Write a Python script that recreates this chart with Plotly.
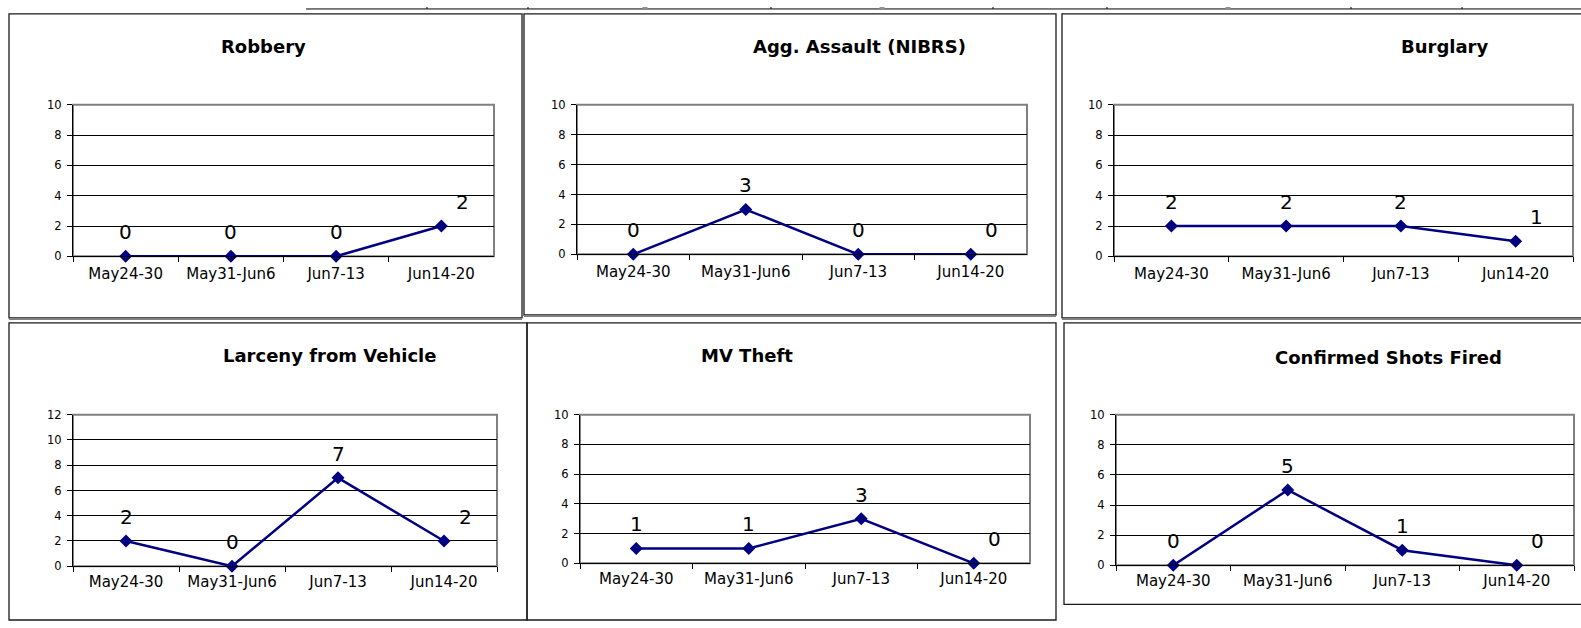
import plotly.graph_objects as go

# Weekly counts per offence category
weeks = ["May24-30", "May31-Jun6", "Jun7-13", "Jun14-20"]
robbery = [0, 0, 0, 2]
agg_assault = [0, 3, 0, 0]
burglary = [2, 2, 2, 1]
larceny_vehicle = [2, 0, 7, 2]
mv_theft = [1, 1, 3, 0]
shots_fired = [0, 5, 1, 0]

titles = ["Robbery", "Agg. Assault (NIBRS)", "Burglary",
          "Larceny from Vehicle", "MV Theft", "Confirmed Shots Fired"]
series = [robbery, agg_assault, burglary, larceny_vehicle, mv_theft, shots_fired]
y_max = [10, 10, 10, 12, 10, 10]

W, H = 1581, 628
NAVY = "#000080"
FONT = "DejaVu Sans"


def fx(px):
    return px / W


def fy(py):
    return 1 - py / H


# Plot-area boxes in pixels: left, right, top, bottom
plot_boxes = [
    (73, 494, 100, 255),
    (577, 1027, 100, 253),
    (1114, 1573, 100, 255),
    (73, 497, 417, 572),
    (580, 1030, 417, 569),
    (1116, 1574, 417, 571),
]
# Title centres in pixels
title_pos = [(263, 40), (859, 40), (1444, 40), (329, 356), (747, 356), (1388, 358)]
# Chart frames: left, right, top, bottom
frames = [
    (9, 522, 7, 318),
    (524, 1056, 7, 315),
    (1062, 1600, 7, 318),
    (9, 527, 323, 627),
    (527, 1056, 323, 627),
    (1064, 1600, 323, 611),
]

fig = go.Figure()
layout = dict(
    width=W, height=H,
    margin=dict(l=0, r=0, t=0, b=0),
    paper_bgcolor="white", plot_bgcolor="white",
    showlegend=False,
    font=dict(family=FONT, color="black"),
)
annotations = []
shapes = []

for i, (vals, title, ymax, box, tpos) in enumerate(
        zip(series, titles, y_max, plot_boxes, title_pos)):
    n = "" if i == 0 else str(i + 1)
    xa, ya = "x" + n, "y" + n
    left, right, top, bottom = box
    layout["xaxis" + n] = dict(
        domain=[fx(left), fx(right)], anchor=ya,
        type="category", categoryorder="array", categoryarray=weeks,
        range=[-0.5, 3.5], tickson="boundaries",
        ticks="outside", ticklen=5, tickcolor="black", tickwidth=1,
        showline=True, linecolor="black", linewidth=1,
        showgrid=False, zeroline=False,
        tickfont=dict(family=FONT, size=15, color="black"),
        ticklabelstandoff=4 if i < 3 else 2,
    )
    layout["yaxis" + n] = dict(
        domain=[fy(bottom), fy(top)], anchor=xa,
        range=[0, ymax], dtick=2, tick0=0,
        ticks="outside", ticklen=5, tickcolor="black", tickwidth=1,
        showline=True, linecolor="black", linewidth=1,
        showgrid=True, gridcolor="black", gridwidth=1,
        zeroline=False,
        tickfont=dict(family=FONT, size=11.5, color="black"),
        ticklabelstandoff=3,
    )
    fig.add_trace(go.Scatter(
        x=weeks, y=vals, xaxis=xa, yaxis=ya, mode="lines+markers",
        line=dict(color=NAVY, width=2.5),
        marker=dict(symbol="diamond", size=10, color=NAVY),
        cliponaxis=False, hoverinfo="skip",
    ))
    # gray plot-area frame (top and right edges show)
    shapes.append(dict(
        type="rect", xref=xa + " domain", yref=ya + " domain",
        x0=0, x1=1, y0=0, y1=1, line=dict(color="#808080", width=2),
        layer="below",
    ))
    # value labels above each point; the last one sits to the right
    for j, (wk, v) in enumerate(zip(weeks, vals)):
        annotations.append(dict(
            x=wk, y=v, xref=xa, yref=ya, text=str(v), showarrow=False,
            xshift=21 if j == len(vals) - 1 else 0, yshift=24,
            font=dict(family=FONT, size=20, color="black"),
        ))
    annotations.append(dict(
        x=fx(tpos[0]), y=fy(tpos[1]), xref="paper", yref="paper",
        text="<b>%s</b>" % title, showarrow=False,
        xanchor="center", yanchor="middle",
        font=dict(family=FONT, size=18, color="black"),
    ))

# chart frames
for k, (l, r, t, b) in enumerate(frames):
    shapes.append(dict(type="rect", xref="paper", yref="paper",
                       x0=fx(l), x1=fx(r), y0=fy(b), y1=fy(t),
                       line=dict(color="#1a1a1a", width=1.3), layer="below"))
    if k < 3:
        shapes.append(dict(type="line", xref="paper", yref="paper",
                           x0=fx(l), x1=fx(r), y0=fy(b + 1), y1=fy(b + 1),
                           line=dict(color="#808080", width=2), layer="below"))

# table rule fragment along the top edge
RULE_Y = 2
shapes.append(dict(type="line", xref="paper", yref="paper",
                   x0=fx(306), x1=1, y0=fy(RULE_Y), y1=fy(RULE_Y),
                   line=dict(color="black", width=1)))
for xv in [427, 528, 771, 993, 1107, 1351, 1462]:
    shapes.append(dict(type="line", xref="paper", yref="paper",
                       x0=fx(xv), x1=fx(xv), y0=1, y1=fy(RULE_Y),
                       line=dict(color="black", width=1)))
for xv in [645, 882, 1228]:
    shapes.append(dict(type="rect", xref="paper", yref="paper",
                       x0=fx(xv - 2.5), x1=fx(xv + 2.5), y0=1, y1=fy(RULE_Y),
                       fillcolor="#909090", line=dict(width=0)))

layout["annotations"] = annotations
layout["shapes"] = shapes
fig.update_layout(**layout)
fig.write_html("out.html")
